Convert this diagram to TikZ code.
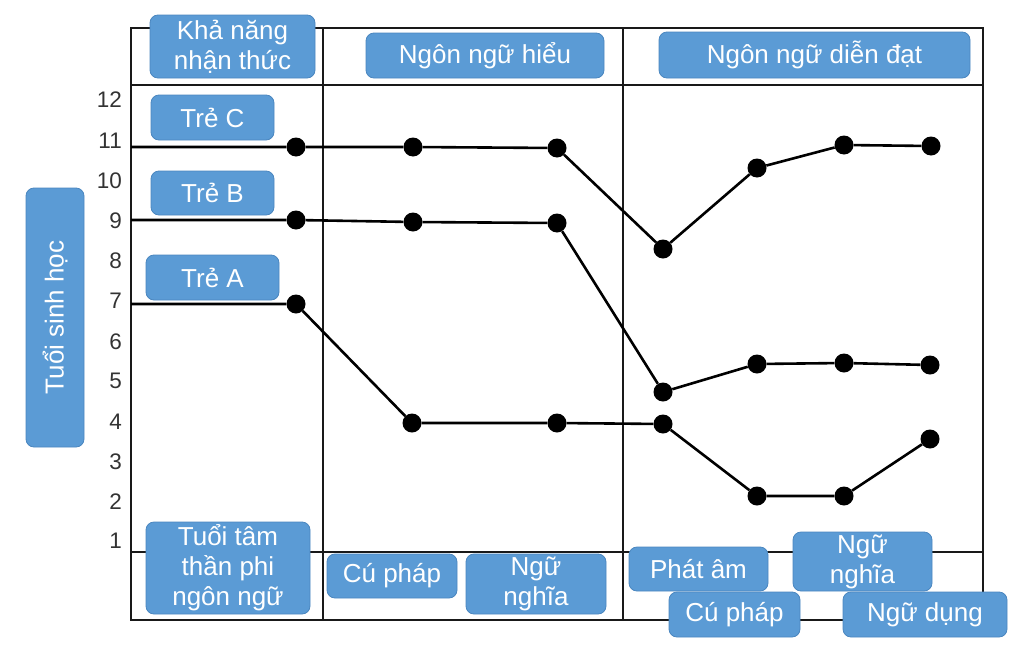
\documentclass[tikz,border=0pt]{standalone}
\usepackage{fontspec}
\setmainfont{Liberation Sans}
\definecolor{boxblue}{HTML}{5B9BD5}
\definecolor{boxedge}{HTML}{4A86BF}
\begin{document}
\begin{tikzpicture}[x=1pt,y=-1pt,
  frame/.style={line width=2.3pt, black!90},
  conn/.style={line width=2.6pt, black},
  dot/.style={circle, fill=black, inner sep=0pt, minimum size=19pt},
  tick/.style={anchor=east, inner sep=0pt, text=black!80, font=\fontsize{22.5}{24}\selectfont},
  box/.style={rounded corners=8pt, fill=boxblue, draw=boxedge, line width=0.8pt,
    text=white, align=center, inner sep=0pt, font=\fontsize{26}{30}\selectfont}]
\useasboundingbox (0,0) rectangle (1023,648);
% frame
\draw[frame] (131,28) rectangle (983,620);
\draw[frame] (131,85) -- (983,85);
\draw[frame] (131,552) -- (983,552);
\draw[frame] (323,28) -- (323,620);
\draw[frame] (623,28) -- (623,620);
% tick labels
\foreach \v/\yy in {12/100,11/141,10/181,9/221,8/261,7/301,6/342,5/381,4/422,3/462,2/502,1/541}
  \node[tick] (t\v) at (122,\yy) {\v};
% left ends
\coordinate (c0) at (131,147);
\coordinate (b0) at (131,220);
\coordinate (a0) at (131,304);
% dots
\node[dot] (c1) at (296,147) {};
\node[dot] (c2) at (413,147) {};
\node[dot] (c3) at (557,148) {};
\node[dot] (c4) at (663,249) {};
\node[dot] (c5) at (757,168) {};
\node[dot] (c6) at (844,145) {};
\node[dot] (c7) at (931,146) {};
\node[dot] (b1) at (296,220) {};
\node[dot] (b2) at (413,222) {};
\node[dot] (b3) at (557,223) {};
\node[dot] (b4) at (663,392) {};
\node[dot] (b5) at (757,364) {};
\node[dot] (b6) at (844,363) {};
\node[dot] (b7) at (930,365) {};
\node[dot] (a1) at (296,304) {};
\node[dot] (a2) at (412,423) {};
\node[dot] (a3) at (557,423) {};
\node[dot] (a4) at (663,424) {};
\node[dot] (a5) at (757,496) {};
\node[dot] (a6) at (844,496) {};
\node[dot] (a7) at (930,439) {};
% connectors
\draw[conn] (c0) -- (c1) -- (c2) -- (c3) -- (c4) -- (c5) -- (c6) -- (c7);
\draw[conn] (b0) -- (b1) -- (b2) -- (b3) -- (b4) -- (b5) -- (b6) -- (b7);
\draw[conn] (a0) -- (a1) -- (a2) -- (a3) -- (a4) -- (a5) -- (a6) -- (a7);
% boxes
\node[box, minimum width=165pt, minimum height=63pt] (kn) at (232.5,46.5) {Khả năng\\nhận thức};
\node[box, minimum width=238pt, minimum height=45pt] (nnh) at (485,55.5) {Ngôn ngữ hiểu};
\node[box, minimum width=311pt, minimum height=46pt] (nnd) at (814.5,55) {Ngôn ngữ diễn đạt};
\node[box, minimum width=123pt, minimum height=45pt] (trec) at (212.5,117.5) {Trẻ C};
\node[box, minimum width=123pt, minimum height=44pt] (treb) at (212.5,193) {Trẻ B};
\node[box, minimum width=133pt, minimum height=45pt] (trea) at (212.5,277.5) {Trẻ A};
\node[box, rotate=90, minimum width=259pt, minimum height=58pt] (tsh) at (55,317.5) {Tuổi sinh học};
\node[box, minimum width=164pt, minimum height=92pt] (ttt) at (228,568) {Tuổi tâm\\thần phi\\ngôn ngữ};
\node[box, minimum width=130pt, minimum height=44pt] (cp1) at (392,576) {Cú pháp};
\node[box, minimum width=140pt, minimum height=60pt] (nn1) at (536,584) {Ngữ\\nghĩa};
\node[box, minimum width=139pt, minimum height=44pt] (pa) at (698.5,569) {Phát âm};
\node[box, minimum width=139pt, minimum height=59pt] (nn2) at (862.5,561.5) {Ngữ\\nghĩa};
\node[box, minimum width=131pt, minimum height=45pt] (cp2) at (734.5,614.5) {Cú pháp};
\node[box, minimum width=164pt, minimum height=45pt] (nd) at (925,614.5) {Ngữ dụng};
\end{tikzpicture}
\end{document}
